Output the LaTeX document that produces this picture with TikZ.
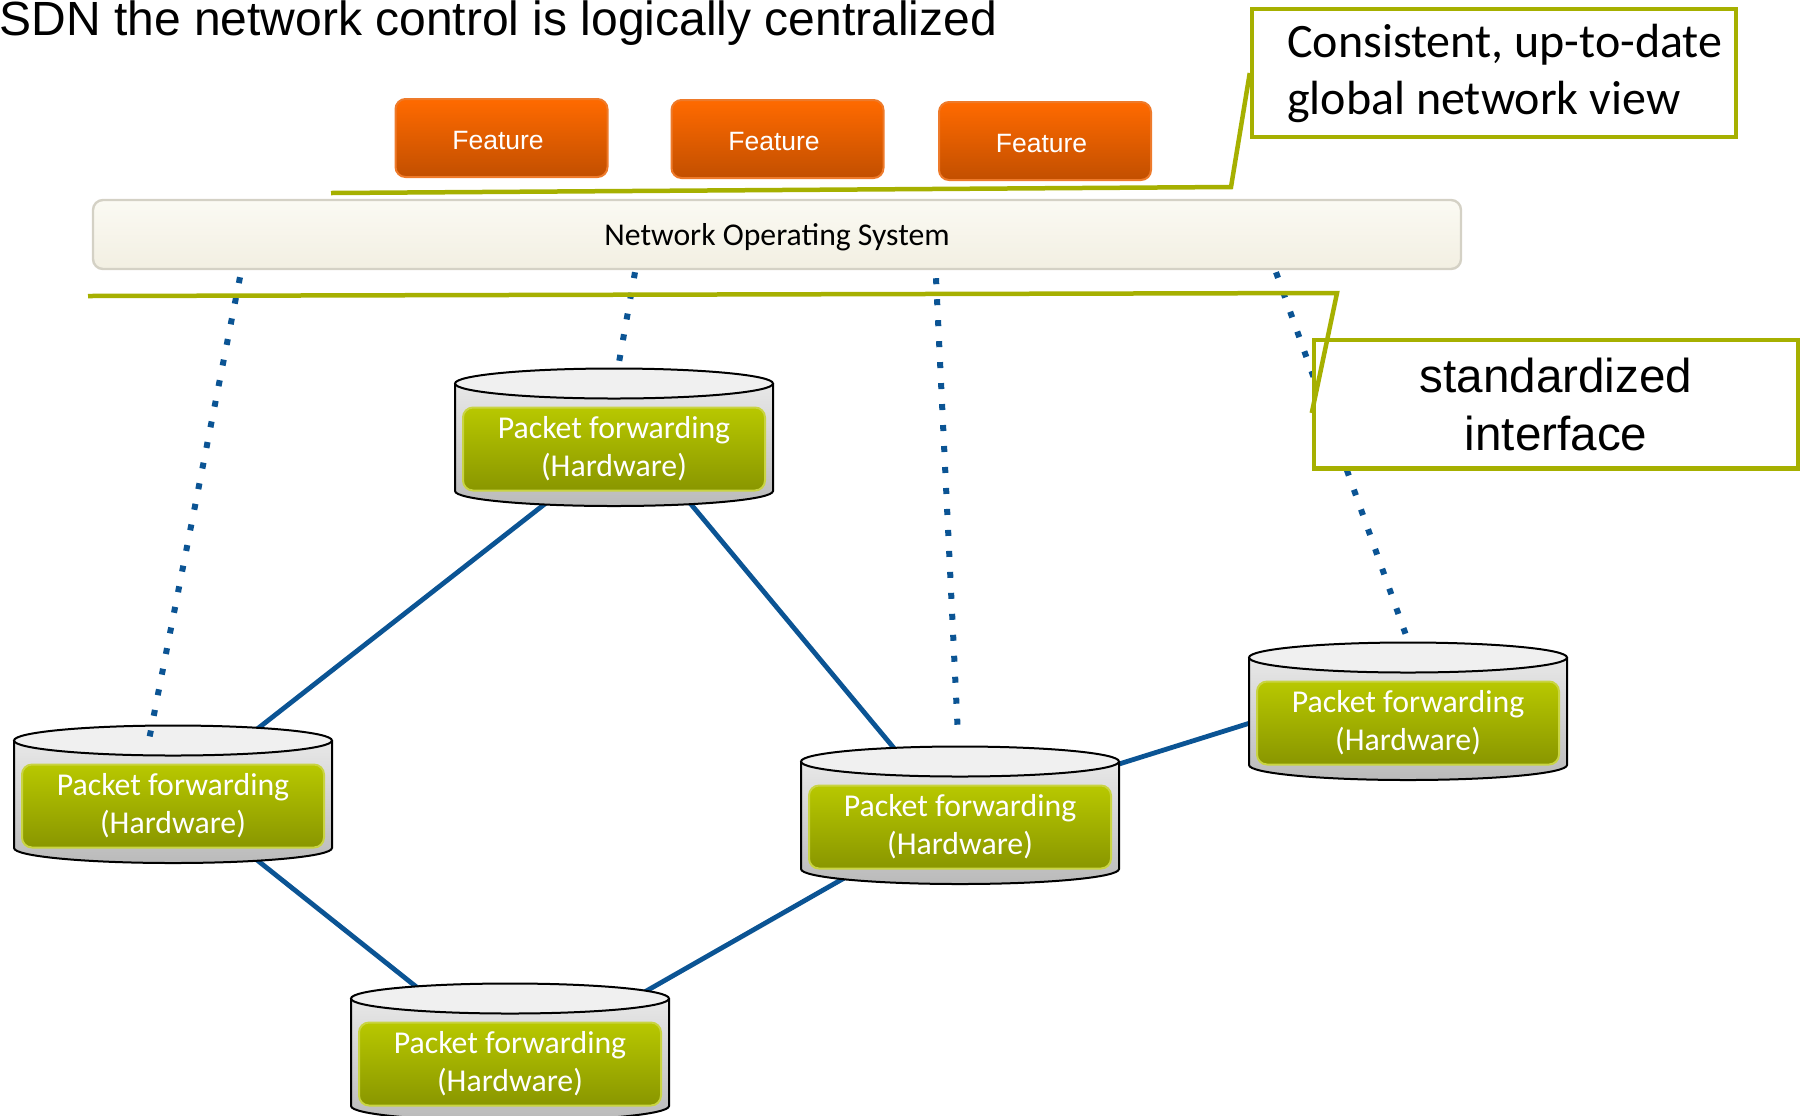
\documentclass[tikz,border=0pt]{standalone}
\usepackage{fontspec}
\setmainfont{Carlito}
\newfontfamily\arialfont{Liberation Sans}
\usetikzlibrary{calc}
\pgfdeclarelayer{bg}
\pgfsetlayers{bg,main}

\definecolor{linkblue}{HTML}{0B5494}
\definecolor{callgreen}{HTML}{A6B000}
\definecolor{featTop}{HTML}{FF6A00}
\definecolor{featBot}{HTML}{C24F00}
\definecolor{featEdge}{HTML}{EE7A2A}
\definecolor{pfTop}{HTML}{B8C800}
\definecolor{pfBot}{HTML}{899600}
\definecolor{pfEdge}{HTML}{C9D442}
\definecolor{nosTop}{HTML}{FBFAF3}
\definecolor{nosBot}{HTML}{F2EFE2}
\definecolor{nosEdge}{HTML}{D4D1C5}

\begin{document}
\begin{tikzpicture}[x=0.5pt,y=-0.5pt,
  feature/.style={rounded corners=5pt, draw=featEdge, line width=1pt,
    top color=featTop, bottom color=featBot, minimum width=106pt,
    minimum height=39pt, text=white, inner sep=0pt,
    text height=11.5pt, text depth=0pt,
    font=\arialfont\fontsize{13.25}{16}\selectfont},
  nosbox/.style={rounded corners=5pt, draw=nosEdge, line width=1.2pt,
    top color=nosTop, bottom color=nosBot, minimum width=684pt,
    minimum height=34.5pt, inner sep=0pt,
    text height=13.8pt, text depth=3.3pt,
    font=\fontsize{15.85}{19}\selectfont},
  pfbox/.style={rounded corners=5pt, draw=pfEdge, line width=1pt,
    top color=pfTop, bottom color=pfBot, minimum width=151pt,
    minimum height=41.5pt, text=white, align=center, inner sep=0pt,
    font=\fontsize{15.9}{19}\selectfont},
  cylbody/.style={top color=black!9, bottom color=black!27},
  cylline/.style={draw=black, line width=1pt},
  link/.style={draw=linkblue, line width=2.4pt, shorten <=-4pt, shorten >=-4pt},
  ctrl/.style={draw=linkblue, line width=3pt, dash pattern=on 3pt off 7.5pt},
  callbox/.style={draw=callgreen, line width=2.25pt, fill=white, inner sep=0pt},
  callline/.style={draw=callgreen, line width=2.25pt, line join=miter},
  switch/.pic={
    \path[cylbody] (-159,-63.5) -- (-159,44)
      arc[start angle=180, end angle=0, x radius=159, y radius=15]
      -- (159,-63.5) -- cycle;
    \draw[cylline] (-159,-63.5) -- (-159,44)
      arc[start angle=180, end angle=0, x radius=159, y radius=15]
      -- (159,-63.5);
    \draw[cylline, fill=black!6] (0,-63.5) ellipse [x radius=159, y radius=15];
    \node[pfbox] (-b) at (0,2) {Packet forwarding\\(Hardware)};
  }
]
\useasboundingbox (0,0) rectangle (1802,1115);

% title
\node[anchor=base west, inner sep=0pt,
      font=\arialfont\fontsize{24}{28}\selectfont] (title) at (-1,35)
  {SDN the network control is logically centralized};

% applications on top of the controller
\node[feature] (f1) at (501.5,138) {\hspace*{-3.5pt}Feature};
\node[feature] (f2) at (777.5,139) {\hspace*{-3.5pt}Feature};
\node[feature] (f3) at (1045,141) {\hspace*{-3.5pt}Feature};

% controller
\node[nosbox] (nos) at (777,234.5) {Network Operating System};

% forwarding elements
\pic (s1) at (614,447) {switch};
\pic (s2) at (173,804) {switch};
\pic (s3) at (960,825) {switch};
\pic (s4) at (1408,721) {switch};
\pic (s5) at (510,1062) {switch};

% physical links, kept behind the cylinders
\begin{pgfonlayer}{bg}
  \draw[link] ($(s1-b)+(-68,54)$) -- ($(s2-b)+(88,-80)$);
  \draw[link] ($(s1-b)+(76,54)$) -- ($(s3-b)+(-67,-80)$);
  \draw[link] ($(s2-b)+(84,54)$) -- ($(s5-b)+(-96,-79)$);
  \draw[link] ($(s5-b)+(138,-74)$) -- ($(s3-b)+(-114,50)$);
  \draw[link] ($(s3-b)+(159,-63)$) -- ($(s4-b)+(-158,0)$);
\end{pgfonlayer}

% control channels from the controller
\draw[ctrl] ($(nos.south)+(-537,7)$) -- ($(s2-b)+(-25,-61)$);
\draw[ctrl] ($(nos.south)+(-142,2)$) -- ($(s1-b)+(4,-81)$);
\draw[ctrl] ($(nos.south)+(159,8)$) -- ($(s3-b)+(-2,-91)$);
\draw[ctrl] ($(nos.south)+(499,2)$) -- ($(s4-b)+(-1,-85)$);

% callouts
\node[callbox, minimum width=242pt, minimum height=64pt] (c1) at (1494,73) {};
\node[anchor=west, inner sep=0pt, align=left,
      font=\fontsize{24}{28.5}\selectfont] (c1t) at ([xshift=18.5pt]c1.west)
  {Consistent, up-to-date\\global network view};
\node[callbox, minimum width=242pt, minimum height=64.25pt, align=center,
      font=\arialfont\fontsize{23.8}{29}\selectfont] (c2) at (1556,404)
  {standardized\\interface};

\coordinate (nbiL) at (331,193);
\coordinate (nbiR) at (1231,187);
\coordinate (sbiL) at (88,296);
\coordinate (sbiR) at (1337,293);
\draw[callline] (nbiL) -- (nbiR) -- (c1.west);
\draw[callline] (sbiL) -- (sbiR) -- ($(c2.west)+(0,9)$);
\end{tikzpicture}
\end{document}
